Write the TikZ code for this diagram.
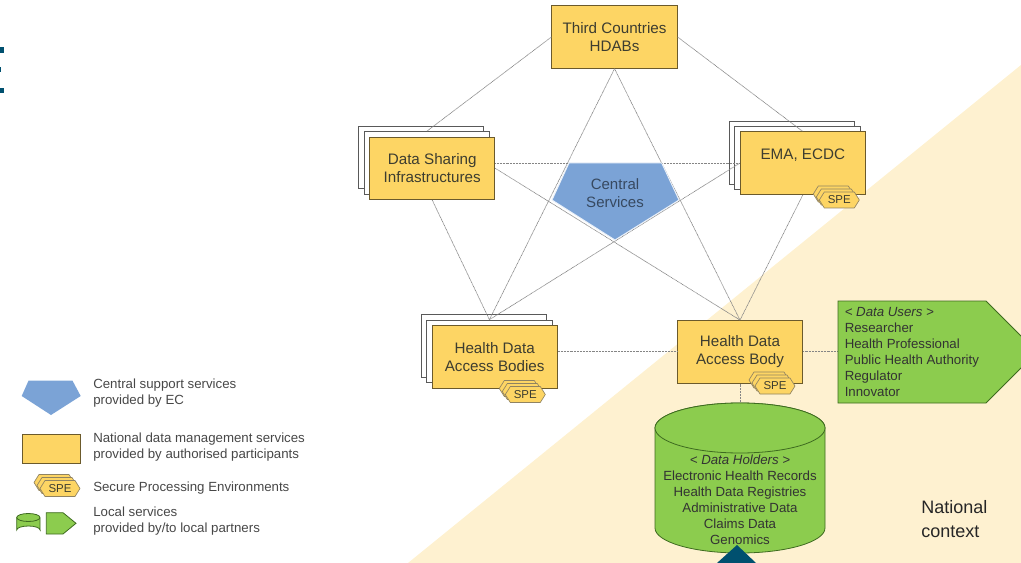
\documentclass[tikz,border=0pt]{standalone}
\usepackage{fontspec}
\setmainfont{Liberation Sans}
\definecolor{beige}{HTML}{FEF1D0}
\definecolor{yel}{HTML}{FDD564}
\definecolor{yelb}{HTML}{6B5A2C}
\definecolor{grn}{HTML}{8CCC4E}
\definecolor{grnb}{HTML}{3E6B20}
\definecolor{blu}{HTML}{7BA3D6}
\definecolor{teal}{HTML}{00506F}
\definecolor{txt}{HTML}{3D3D30}
\definecolor{linkc}{HTML}{858585}
\tikzset{
 box/.style={draw=yelb,line width=.6pt,fill=yel,minimum width=94pt,minimum height=47pt,inner sep=0pt,align=center,text=txt,font=\fontsize{11.4}{13.9}\selectfont},
 backbox/.style={draw=black!65,line width=.6pt,fill=white,minimum width=94pt,minimum height=47pt,inner sep=0pt},
 link/.style={draw=linkc,line width=.5pt,dash pattern=on .7pt off .4pt},
 spebox/.style={draw=yelb!75,line width=.5pt,fill=yel,line join=round},
 spetext/.style={inner sep=0pt,text=txt,font=\fontsize{8.6}{10}\selectfont},
 gshape/.style={draw=grnb,line width=.6pt,fill=grn},
 gtext/.style={inner sep=0pt,text=black!80,font=\fontsize{9.95}{12}\selectfont},
 legtext/.style={inner sep=0pt,anchor=west,align=left,text=black!72,font=\fontsize{9.95}{12}\selectfont},
 bluesh/.style={fill=blu,draw=white!85!blu,line width=.7pt},
}
\newcommand{\spehex}[3]{% x,y,name
 \foreach \d in {6,3,0}{
  \draw[spebox] ({#1-15-\d},{#2-8-\d}) -- ({#1+15-\d},{#2-8-\d}) -- ({#1+20-\d},{#2-\d}) -- ({#1+15-\d},{#2+8-\d}) -- ({#1-15-\d},{#2+8-\d}) -- ({#1-20-\d},{#2-\d}) -- cycle;
 }
 \node[spetext] (#3) at (#1,#2) {SPE};
}
\begin{document}
\begin{tikzpicture}[x=.75pt,y=-.75pt]
\useasboundingbox (0,0) rectangle (1021,563);
\clip (0,0) rectangle (1021,563);
% background
\fill[beige] (408,563) -- (1021,65) -- (1021,563) -- cycle;
\fill[teal] (0,47) rectangle (3.5,53);
\fill[teal] (0,67) rectangle (1,72);
\fill[teal] (0,88) rectangle (4,93);
% stacks behind
\node[backbox] (dsib) at (421.2,157.4) {};
\node[backbox] (dsim) at (427,162.8) {};
\node[backbox] (emab) at (792,152.9) {};
\node[backbox] (emam) at (797.4,158.2) {};
\node[backbox] (hdasb) at (483.7,345.6) {};
\node[backbox] (hdasm) at (489.4,351.4) {};
% anchors
\coordinate (cyltop) at (740,403);
\coordinate (usersw) at (838,351.8);
\node[box] (third) at (614.5,37) {Third Countries\\HDABs};
\node[box] (dsi) at (432.2,168.3) {Data Sharing\\Infrastructures};
\node[box] (ema) at (802.8,163.2) {EMA, ECDC\\~};
\node[box] (hdas) at (494.7,357) {\raisebox{-.75pt}{Health Data}\\\raisebox{-.75pt}{Access Bodies}};
\node[box] (hdab) at (740,351.8) {\raisebox{-1.5pt}{Health Data}\\\raisebox{-1.5pt}{Access Body}};
% connectors
\draw[link] (third.west) -- (dsim.north);
\draw[link] (third.east) -- (ema.north);
\draw[link] (third.south) -- (hdasm.north);
\draw[link] (third.south) -- (hdab.north);
\draw[link] (dsi.east |- ema.west) -- (ema.west);
\draw[link] (dsi.east) -- (hdab.north);
\draw[link] (dsi.south) -- (hdasm.north);
\draw[link] (ema.west) -- (hdasm.north);
\draw[link] (ema.south) -- (hdab.north);
\draw[link] (hdas.east |- hdab.west) -- (hdab.west);
\draw[link] (hdab.east) -- (usersw);
\draw[link] (hdab.south) -- (cyltop);
% central
\draw[bluesh] (569,163) -- (661.7,163) -- (679,200) -- (615,240) -- (552,200) -- cycle;
\node[inner sep=0pt,align=center,text=blu!45!black,font=\fontsize{11.25}{13.9}\selectfont] (central) at (615,193) {Central\\Services};
% SPE
\spehex{839.3}{200}{speema}
\spehex{775}{386}{spehdab}
\spehex{525.3}{394.5}{spehdas}
% data users
\draw[gshape] (838,301) -- (986,301) -- (1037,352) -- (986,403) -- (838,403) -- cycle;
\node[gtext,anchor=north west,align=left] (users) at (844.5,307) {\textit{< Data Users >}\\Researcher\\Health Professional\\Public Health Authority\\Regulator\\Innovator};
% data holders
\draw[gshape] (655,428) arc[start angle=180,end angle=360,x radius=85,y radius=25] -- (825,528) arc[start angle=0,end angle=180,x radius=85,y radius=25] -- cycle;
\draw[gshape] (740,428) ellipse[x radius=85,y radius=25];
\node[gtext,anchor=north,align=center] (holders) at (740,455) {\textit{< Data Holders >}\\Electronic Health Records\\Health Data Registries\\Administrative Data\\Claims Data\\Genomics};
\fill[teal] (737,545) -- (756,563) -- (717,563) -- cycle;
% national
\node[inner sep=0pt,anchor=west,align=left,text=black!85,font=\fontsize{13.5}{18}\selectfont] (natl) at (921,519) {National\\context};
% legend
\draw[bluesh,draw=none] (28.5,380.7) -- (72.5,380.7) -- (80.7,396) -- (51,415) -- (21.7,396) -- cycle;
\coordinate (legp) at (51,396);
\node[legtext] (lt1) at (93,393.5) {Central support services\\provided by EC};
\node[draw=yelb,line width=.5pt,fill=yel,inner sep=0pt,minimum width=43.9pt,minimum height=21.8pt] (legr) at (51.2,448.8) {};
\node[legtext] (lt2) at (93,447.5) {National data management services\\provided by authorised participants};
\spehex{60}{488.5}{legspe}
\node[legtext] (lt3) at (93,488) {Secure Processing Environments};
\draw[gshape] (16.7,518) -- (16.7,530) arc[start angle=180,end angle=360,x radius=11.7,y radius=4] -- (40,518);
\draw[gshape] (28.35,517.5) ellipse[x radius=11.65,y radius=4];
\draw[gshape] (46.3,512.7) -- (63,512.7) -- (76,523.3) -- (63,534) -- (46.3,534) -- cycle;
\node[legtext] (lt4) at (93,521.5) {Local services\\provided by/to local partners};
\end{tikzpicture}
\end{document}
